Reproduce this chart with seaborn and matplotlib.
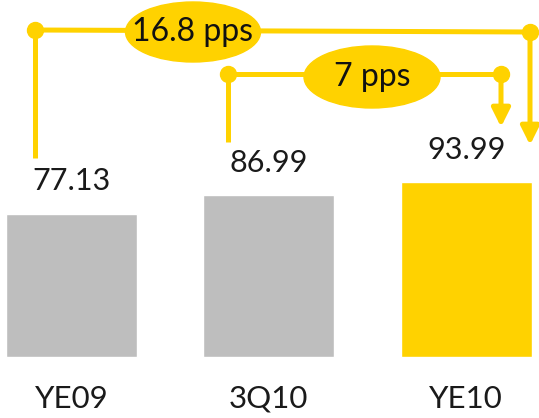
import matplotlib
matplotlib.use("Agg")
import matplotlib.pyplot as plt
from matplotlib.patches import Ellipse
import pandas as pd
import seaborn as sns

# data
periods = ["YE09", "3Q10", "YE10"]
values = [77.13, 86.99, 93.99]
value_labels = ["77.13", "86.99", "93.99"]
diff_labels = ["16.8 pps", "7 pps"]

YELLOW = "#FFD200"
GREY = "#BEBEBE"
W, H = 539, 418

sns.set_theme(style="white")
plt.rcParams["font.family"] = ["Lato", "DejaVu Sans"]

df = pd.DataFrame({"period": periods, "value": values})

fig = plt.figure(figsize=(W / 100, H / 100), dpi=100)
ax = fig.add_axes([0, 0, 1, 1])

sns.barplot(data=df, x="period", y="value", hue="period",
            palette=[GREY, GREY, YELLOW], width=0.664, legend=False,
            saturation=1, ax=ax)

# scale so that bars sit like in the original
ax.set_xlim(-0.362, 2.369)
ax.set_ylim(-32.8, 191.9)
ax.axis("off")

for i, (v, lab) in enumerate(zip(values, value_labels)):
    ax.text(i, v + 10, lab, ha="center", va="bottom", fontsize=22, color="#1a1a1a")
    ax.text(i, -15, periods[i], ha="center", va="top", fontsize=22.5, color="#1a1a1a")


# helper: pixel position (from top-left) -> axes fraction
def px(x, y):
    return (x / W, 1 - y / H)


def bracket(x0, y0, x1, y1, left_end, tip, label, ell_c, ell_w, ell_h):
    kw = dict(color=YELLOW, lw=3.6, solid_capstyle="butt", transform=ax.transAxes)
    ax.plot(*zip(px(x0, left_end), px(x0, y0)), **kw)
    ax.plot(*zip(px(x0, y0), px(x1, y1)), **kw)
    ax.plot(*zip(px(x0, y0), px(x1, y1)), "o", ms=11.5, color=YELLOW,
            transform=ax.transAxes)
    ax.annotate("", xy=px(x1, tip), xytext=px(x1, y1), xycoords="axes fraction",
                arrowprops=dict(arrowstyle="-|>,head_length=1.1,head_width=0.55",
                                mutation_scale=10, lw=3.6, color=YELLOW,
                                shrinkA=0, shrinkB=0))
    ax.add_patch(Ellipse(px(*ell_c), ell_w / W, ell_h / H, color=YELLOW,
                         transform=ax.transAxes, zorder=4))
    ax.text(*px(*ell_c), label, ha="center", va="center", fontsize=23,
            color="#111111", transform=ax.transAxes, zorder=5)


bracket(35, 30, 530, 32, 158, 145, diff_labels[0], (193, 32), 135, 60)
bracket(228, 74, 501, 74, 142, 127, diff_labels[1], (372, 77), 136, 62)

fig.savefig("out.png", dpi=100)
